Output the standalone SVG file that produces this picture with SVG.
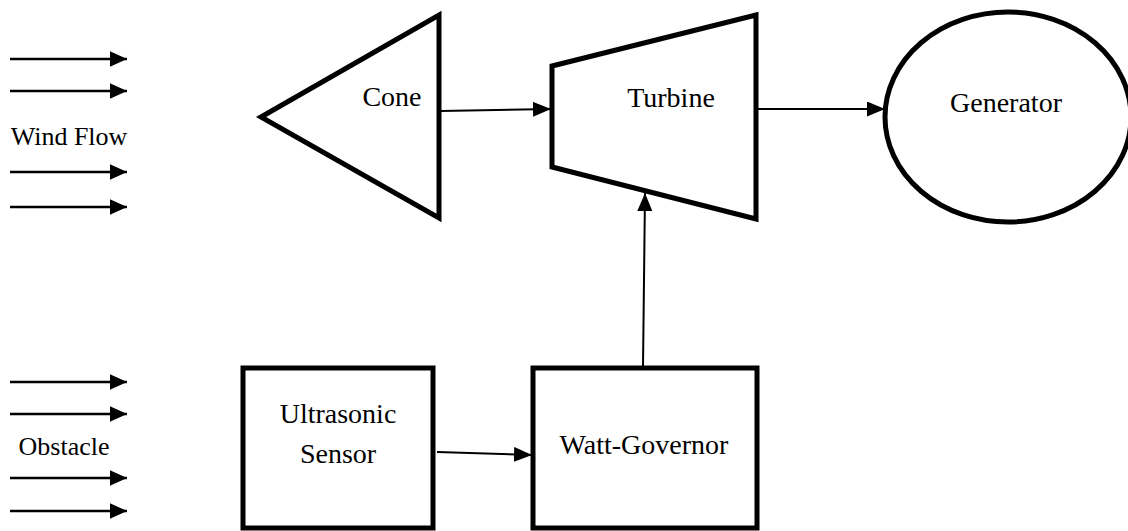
<svg xmlns="http://www.w3.org/2000/svg" width="1128" height="531" viewBox="0 0 1128 531">
<style>
.shape{fill:#fff;stroke:#000;stroke-width:5;stroke-linejoin:miter}
text{font-family:'Liberation Serif','Times New Roman',Times,serif;fill:#000;text-anchor:middle}
.lbl{font-size:28px}
.side{font-size:26px}
.conn{stroke:#000;stroke-width:2;fill:none}
.flow{stroke:#000;stroke-width:2.5;fill:none}
</style>
<defs>
<marker id="ah" markerWidth="9" markerHeight="7.5" refX="9" refY="3.75" orient="auto" markerUnits="strokeWidth">
<path d="M0,0 L9,3.75 L0,7.5 z" fill="#000"/>
</marker>
<marker id="ahf" markerWidth="7" markerHeight="6.4" refX="7" refY="3.2" orient="auto" markerUnits="strokeWidth">
<path d="M0,0 L7,3.2 L0,6.4 z" fill="#000"/>
</marker>
</defs>
<rect width="1128" height="531" fill="#fff"/>
<g id="wind-flow">
<line class="flow" x1="10" y1="59" x2="127" y2="59" marker-end="url(#ahf)"/>
<line class="flow" x1="10" y1="91" x2="127" y2="91" marker-end="url(#ahf)"/>
<text class="side" x="69" y="145" font-family="Liberation Serif, serif">Wind Flow</text>
<line class="flow" x1="10" y1="172" x2="127" y2="172" marker-end="url(#ahf)"/>
<line class="flow" x1="10" y1="207" x2="127" y2="207" marker-end="url(#ahf)"/>
</g>
<g id="obstacle">
<line class="flow" x1="10" y1="382" x2="127" y2="382" marker-end="url(#ahf)"/>
<line class="flow" x1="10" y1="414" x2="127" y2="414" marker-end="url(#ahf)"/>
<text class="side" x="64" y="455" font-family="Liberation Serif, serif">Obstacle</text>
<line class="flow" x1="10" y1="478" x2="127" y2="478" marker-end="url(#ahf)"/>
<line class="flow" x1="10" y1="511" x2="127" y2="511" marker-end="url(#ahf)"/>
</g>
<g id="cone">
<polygon class="shape" points="261,117 439,15 439,218"/>
<text class="lbl" x="392" y="106" font-family="Liberation Serif, serif">Cone</text>
</g>
<g id="turbine">
<polygon class="shape" points="552,66 756,15 756,219 552,167"/>
<text class="lbl" x="671" y="107" font-family="Liberation Serif, serif">Turbine</text>
</g>
<g id="generator">
<ellipse class="shape" cx="1008" cy="117" rx="123" ry="105"/>
<text class="lbl" x="1006" y="112" font-family="Liberation Serif, serif">Generator</text>
</g>
<g id="ultrasonic-sensor">
<rect class="shape" x="243" y="368" width="190" height="160"/>
<text class="lbl" x="338" y="423" font-family="Liberation Serif, serif">Ultrasonic</text>
<text class="lbl" x="338" y="463" font-family="Liberation Serif, serif">Sensor</text>
</g>
<g id="watt-governor">
<rect class="shape" x="533" y="368" width="224" height="160"/>
<text class="lbl" x="644" y="454" font-family="Liberation Serif, serif">Watt-Governor</text>
</g>
<g id="connectors">
<line class="conn" x1="441" y1="111" x2="551" y2="109" marker-end="url(#ah)"/>
<line class="conn" x1="758" y1="109" x2="885" y2="109" marker-end="url(#ah)"/>
<line class="conn" x1="643" y1="366" x2="645" y2="193" marker-end="url(#ah)"/>
<line class="conn" x1="437" y1="452" x2="532" y2="455" marker-end="url(#ah)"/>
</g>
</svg>
